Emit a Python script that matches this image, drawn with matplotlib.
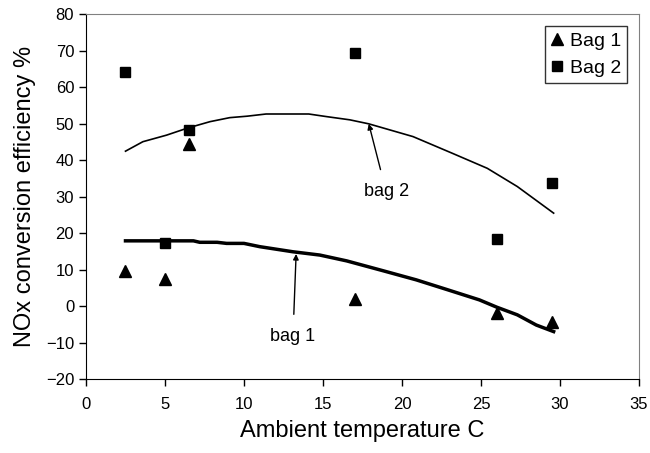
import matplotlib
matplotlib.use('Agg')
import matplotlib.pyplot as plt

plt.rcParams['font.family'] = ['Liberation Sans', 'DejaVu Sans']

# measured points
temp = [2.5, 5, 6.5, 17, 26, 29.5]
bag1 = [9.5, 7.5, 44.5, 2, -2, -4.3]
bag2 = [64.3, 17.2, 48.3, 69.4, 18.3, 33.9]

# trend curves
fit2_x = [2.5, 3.6, 5.1, 6.4, 7.85, 9.1, 10.2, 11.4, 14.1, 15.2, 16.7, 17.9, 20.7, 23.2, 25.4, 27.3, 29.6]
fit2_y = [42.5, 45.1, 46.9, 48.8, 50.6, 51.7, 52.1, 52.7, 52.7, 52.0, 51.1, 50.0, 46.5, 41.9, 37.8, 32.8, 25.5]
fit1_x = [2.5, 6.8, 7.2, 8.3, 8.9, 10.0, 11.0, 13.1, 14.8, 16.5, 18.8, 20.9, 22.8, 24.9, 26.0, 27.3, 28.5, 29.6]
fit1_y = [17.9, 17.9, 17.5, 17.5, 17.2, 17.2, 16.3, 14.9, 14.0, 12.4, 9.7, 7.2, 4.6, 1.7, -0.3, -2.4, -5.2, -7.0]

fig = plt.figure(figsize=(6.5, 4.53), dpi=100)
ax = fig.add_axes([0.1323, 0.1634, 0.8507, 0.8046])

ax.plot(fit2_x, fit2_y, color='black', lw=1.2)
ax.plot(fit1_x, fit1_y, color='black', lw=2.5)
ax.plot(temp, bag1, '^', color='black', ms=8, ls='none', label='Bag 1')
ax.plot(temp, bag2, 's', color='black', ms=7, ls='none', label='Bag 2')

arrow = dict(arrowstyle='-|>', color='black', lw=1, mutation_scale=8, shrinkA=8, shrinkB=0)
ax.annotate('bag 2', xy=(17.9, 50), xytext=(19.0, 31.4), ha='center', va='center',
            fontsize=13, arrowprops=arrow)
ax.annotate('bag 1', xy=(13.3, 14.3), xytext=(13.1, -8.4), ha='center', va='center',
            fontsize=13, arrowprops=arrow)

ax.set_xlim(0, 35)
ax.set_ylim(-20, 80)
ax.set_xticks(range(0, 36, 5))
ax.set_yticks(range(-20, 81, 10))
ax.tick_params(labelsize=12, direction='out', length=5, width=1)
ax.tick_params(axis='x', pad=8)
ax.set_xlabel('Ambient temperature C', fontsize=17, labelpad=6)
ax.set_ylabel('NOx conversion efficiency %', fontsize=17, labelpad=7)

for s in ['top', 'right']:
    ax.spines[s].set_color('#808080')
for s in ['left', 'bottom']:
    ax.spines[s].set_color('black')

leg = ax.legend(loc='upper right', fontsize=14, frameon=True, fancybox=False,
                edgecolor='black', handlelength=0.6, handletextpad=0.4,
                borderaxespad=0.6, borderpad=0.3, labelspacing=0.5)
leg.get_frame().set_linewidth(1)

fig.savefig('out.png', dpi=100)
